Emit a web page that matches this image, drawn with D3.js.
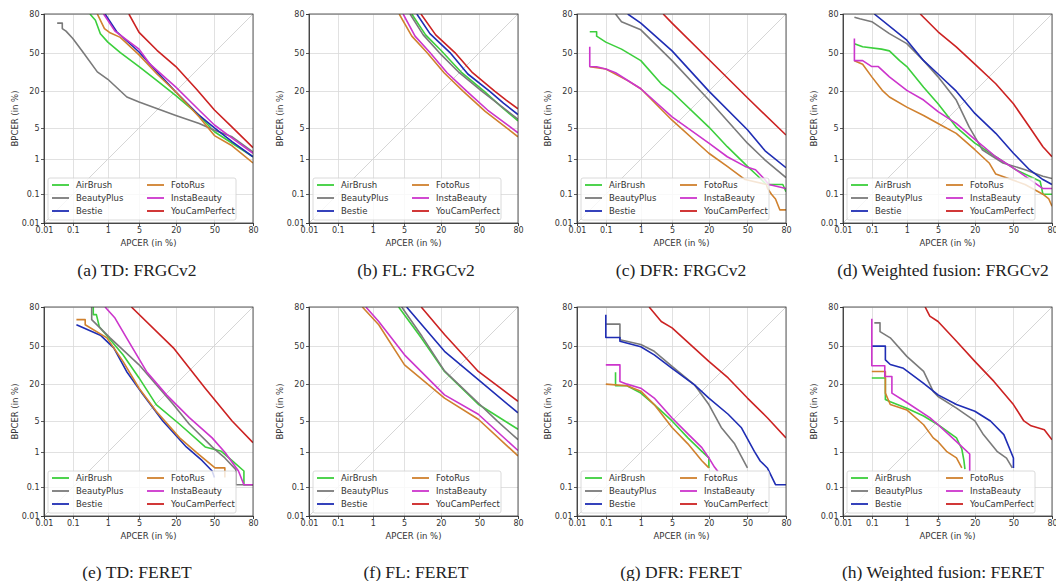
<html>
<script src="https://d3js.org/d3.v7.min.js"></script>
<style>
    body { margin: 0; background: #fff; }
    .grid line { stroke: #dadada; stroke-width: 0.8; shape-rendering: crispEdges; }
    .grid path { stroke-width: 0; }
    .axis path, .axis line { fill: none; stroke: #333; stroke-width: 0.8; shape-rendering: crispEdges; }
    .axis text { font-family: "DejaVu Sans"; font-size: 8px; fill: #333; }
</style>
<body>
<svg id="chart" width=1056 height=581></svg>
<script>
// series in legend order
var seriesNames = ["AirBrush", "BeautyPlus", "Bestie", "FotoRus", "InstaBeauty", "YouCamPerfect"];
var seriesColors = ["#3ccf3c", "#7a7a7a", "#1f2db4", "#d0812e", "#cc35cc", "#cc2222"];
var tickValues = [0.01, 0.1, 1, 5, 20, 50, 80];
var tickLabels = ["0.01", "0.1", "1", "5", "20", "50", "80"];
var captions = ["(a) TD: FRGCv2", "(b) FL: FRGCv2", "(c) DFR: FRGCv2", "(d) Weighted fusion: FRGCv2",
                "(e) TD: FERET", "(f) FL: FERET", "(g) DFR: FERET", "(h) Weighted fusion: FERET"];

// [APCER %, BPCER %] per series, same order as seriesNames
var tdFrgc = [
    [[0.33,80],[0.47,76],[0.64,66],[1,59],[2,50],[5,38],[10.5,27],[20,17.4],[37,8.5],[50,4.2],[80,1.15]],
    [[0.03,74],[0.045,74],[0.045,70],[0.06,68],[0.1,62],[0.21,50],[0.53,33.7],[1,28],[2.8,16.6],[5,14],[20,8.5],[37,6.1],[50,4.5],[65,3.3],[80,1.5]],
    [[0.85,80],[1.65,67.5],[5,50.5],[10.5,33.7],[20,19.5],[37,8.5],[50,5],[65,2.6],[80,1.15]],
    [[0.53,80],[0.82,70],[1.1,67],[2,63],[5,48],[10.5,32],[20,19.5],[37,8],[50,3.5],[65,2.1],[80,0.8]],
    [[0.78,80],[1.5,68],[5,53],[8,40],[20,22.5],[37,10.4],[50,5.7],[65,3.1],[80,1.4]],
    [[3.1,80],[5,67],[10.5,52],[20,38],[35,21],[50,10.5],[65,5.2],[80,1.9]]
];
var flFrgc = [
    [[7,80],[12,65],[20,52],[35,33],[54,20],[68,12],[80,6.8]],
    [[6.5,80],[11,65],[19,50],[33,33],[52,20],[80,7.3]],
    [[8.6,80],[14,66],[26,50],[40,32],[58.7,20],[70,13.5],[80,8.8]],
    [[4,80],[7,64],[12.6,50],[22,33],[36,20],[55,10],[80,3.3]],
    [[4.8,80],[8,64],[14,50],[24,33],[39,20],[57,10.5],[80,4]],
    [[10.1,80],[17,65],[29.6,50],[44,33],[63,20],[72,15],[80,11]]
];
var dfrFrgc = [
    [[0.029,67.5],[0.05,67.5],[0.05,64],[0.1,59],[0.3,53],[1,43],[3,24.8],[5,19.5],[20,5.2],[33,2],[50,0.65],[58.7,0.36],[66,0.2],[78,0.2],[80,0.12]],
    [[0.2,80],[0.3,75],[1,69],[5,43],[20,15],[50,2.4],[65,0.95],[80,0.32]],
    [[0.45,80],[1,74],[5,51.5],[20,20],[50,4.6],[65,1.6],[80,0.6]],
    [[0.029,37.8],[0.1,36],[0.45,27],[1,21.5],[5,7],[20,1.4],[33,0.65],[48,0.28],[66,0.2],[67,0.15],[70,0.1],[73,0.07],[76,0.03],[80,0.03]],
    [[0.029,55],[0.029,38],[0.05,37.8],[0.1,36],[0.2,33],[1,21.5],[5,8],[20,2.4],[33,1.15],[48,0.65],[57,0.53],[64,0.3],[68,0.2],[80,0.15]],
    [[3.3,80],[5,74],[20,44],[50,16.2],[80,3.6]]
];
var wfFrgc = [
    [[0.026,57.7],[0.05,55],[0.2,53],[0.34,51.5],[0.65,43],[1,38],[2.5,22.4],[5,13.2],[10.6,5.2],[20,2.4],[35,1.15],[52,0.53],[72,0.25],[74,0.1],[80,0.1]],
    [[0.026,78],[0.04,77],[0.1,75],[0.34,66],[1,57.7],[2.5,43],[5,29.8],[10.6,15],[16.6,5.3],[24.8,1.7],[41,0.8],[60,0.53],[74,0.35],[80,0.3]],
    [[0.12,80],[1,60.6],[2.5,43],[5,32],[10.6,20],[20,9.2],[35,3.9],[50,1.4],[63.7,0.53],[74,0.28],[80,0.2]],
    [[0.026,43],[0.05,40],[0.1,29.8],[0.21,20.5],[0.34,16.6],[1,11.7],[2.5,8.5],[5,6.1],[10.6,3.9],[20,1.7],[29.8,0.8],[35,0.4],[60,0.2],[74,0.1],[78,0.07],[80,0.04]],
    [[0.026,62],[0.026,43],[0.05,43],[0.1,38],[0.16,38],[0.34,29.8],[1,20.5],[2.5,15],[5,9.9],[10.6,6.1],[20,2.9],[35,1.15],[52,0.53],[74,0.15],[80,0.15]],
    [[2.1,80],[5,67.5],[10.6,55],[20,40],[35,24.8],[50,13.2],[63.7,5.2],[74,2],[80,1.15]]
];
var tdFeret = [
    [[0.41,80],[0.41,75],[0.5,75],[0.6,66],[2.3,42],[5,24],[10.2,9.9],[22.4,4.3],[42,1.35],[56,1.05],[65,0.6],[74,0.31],[74,0.12],[80,0.12]],
    [[0.37,80],[0.37,71.4],[1.14,56.7],[5,33.7],[18.5,9.9],[29.2,4.3],[48,1.35],[59,0.71],[68,0.34],[68,0.12],[80,0.12]],
    [[0.13,67.5],[0.64,59],[1.4,48],[2.76,28.6],[6,14.1],[13,5],[27,1.35],[39.5,0.6],[48,0.31],[50,0.2]],
    [[0.13,71.4],[0.24,71.4],[0.24,67.5],[0.95,56.7],[2.3,36.5],[5,17.6],[10.2,7.6],[22.4,2.2],[36.8,0.87],[50.5,0.38],[59,0.38],[59,0.2]],
    [[0.85,80],[1.5,72.6],[2.76,56.7],[6.9,28.6],[14.8,14.1],[29.2,5.8],[48,2.2],[59,1],[70,0.31],[74,0.12],[80,0.12]],
    [[3.5,80],[18.5,48],[42,17.6],[65,5],[80,1.7]]
];
var flFeret = [
    [[3.9,80],[10.2,56.7],[22.3,28.6],[49,10],[80,3.4]],
    [[4.5,80],[10.5,58],[22.3,29],[49,10.5],[65,5],[80,2]],
    [[5.6,80],[22.3,45],[49,22.8],[80,7.1]],
    [[0.53,80],[1.4,67.5],[5.1,33.7],[22.3,12.6],[49,5.4],[80,0.8]],
    [[0.66,80],[1.4,70],[5.1,42],[22.3,14.1],[49,6.7],[80,1.1]],
    [[10.2,80],[22.3,59.5],[49,28.6],[80,11.2]]
];
var dfrFeret = [
    [[0.2,28],[0.2,19],[0.43,19],[1,15],[2.1,9.9],[5,5],[9.7,2.2],[16,1.05],[20,0.71],[20,0.38]],
    [[0.1,68],[0.27,68],[0.27,55],[1,51],[2.1,45],[5,32.5],[12.4,19.6],[20,9.9],[28.4,3.7],[39,1.6],[50,0.38]],
    [[0.1,75],[0.1,57],[0.27,57],[0.27,53.8],[1,49],[2.1,42],[5,31],[12.4,19.6],[20,12.6],[33.7,6.7],[44.6,3.7],[56,1.05],[61,0.59],[67,0.37],[73,0.12],[80,0.12]],
    [[0.1,20],[0.43,19],[1,16],[2.1,9.9],[5,3.7],[9.7,1.6],[16,0.6],[20,0.38]],
    [[0.1,33.7],[0.27,33.7],[0.27,21.7],[0.43,20],[1,17.6],[2.1,12.6],[5,5.7],[9.7,2.7],[16,1.3],[20,0.71],[23.6,0.4],[26,0.3]],
    [[1.6,80],[3,70],[5,65],[20,36.5],[33.7,24],[50,12.6],[67,5.7],[80,2.2]]
];
var wfFeret = [
    [[0.1,24],[0.26,24],[0.26,12],[0.36,11],[1,8.6],[2.5,6.2],[5,4.2],[10.7,2.2],[13,1.2],[14,0.6],[14.5,0.35]],
    [[0.12,69],[0.18,69],[0.18,62],[0.36,56.7],[1,40.7],[2.5,28.6],[4,15.9],[5,13.3],[10.7,8.6],[20,5],[25.6,2.6],[36,1.05],[44,0.7],[49,0.38]],
    [[0.1,49.5],[0.26,49.5],[0.26,37.8],[0.36,34],[0.82,31],[2.5,20.5],[5,14.1],[10.7,9.9],[20,7.6],[30.8,5],[41.7,2.6],[50,0.71],[50,0.38]],
    [[0.1,28.6],[0.26,28.6],[0.26,15],[0.36,9.9],[1,8],[2.5,4.2],[4,2.2],[5,1.8],[7.2,1.05],[10.7,0.71],[13,0.38]],
    [[0.1,72],[0.1,33],[0.25,33],[0.25,25],[0.4,25],[0.4,15],[1,10.7],[3.4,5.8],[5,4.2],[10.7,1.8],[17,0.9],[17,0.3]],
    [[2.7,80],[3.4,74],[5,70],[10.7,53.8],[20,36.5],[33.5,21.7],[50,9.9],[59,5],[65,4],[75,3.3],[80,2]]
];

var panels = [tdFrgc, flFrgc, dfrFrgc, wfFrgc, tdFeret, flFeret, dfrFeret, wfFeret];

// inverse normal CDF (Acklam), used for the DET (probit) axes
function probit(p) {
    var a = [-3.969683028665376e+01, 2.209460984245205e+02, -2.759285104469687e+02, 1.383577518672690e+02, -3.066479806614716e+01, 2.506628277459239e+00];
    var b = [-5.447609879822406e+01, 1.615858368580409e+02, -1.556989798598866e+02, 6.680131188771972e+01, -1.328068155288572e+01];
    var c = [-7.784894002430293e-03, -3.223964580411365e-01, -2.400758277161838e+00, -2.549732539343734e+00, 4.374664141464968e+00, 2.938163982698783e+00];
    var d = [7.784695709041462e-03, 3.224671290700398e-01, 2.445134137142996e+00, 3.754408661907416e+00];
    var pl = 0.02425, q, r;
    if (p < pl) {
        q = Math.sqrt(-2 * Math.log(p));
        return (((((c[0]*q+c[1])*q+c[2])*q+c[3])*q+c[4])*q+c[5]) / ((((d[0]*q+d[1])*q+d[2])*q+d[3])*q+1);
    }
    if (p > 1 - pl) {
        q = Math.sqrt(-2 * Math.log(1 - p));
        return -(((((c[0]*q+c[1])*q+c[2])*q+c[3])*q+c[4])*q+c[5]) / ((((d[0]*q+d[1])*q+d[2])*q+d[3])*q+1);
    }
    q = p - 0.5; r = q * q;
    return (((((a[0]*r+a[1])*r+a[2])*r+a[3])*r+a[4])*r+a[5])*q / (((((b[0]*r+b[1])*r+b[2])*r+b[3])*r+b[4])*r+1);
}

var svg = d3.select("#chart");
var lefts = [44, 309, 577, 843];
var tops = [14, 307];
var captionX = [137, 416, 681, 943];
var captionY = [276, 578];
var width = 209, height = 209;

function drawPanel(idx, data) {
    var col = idx % 4, row = Math.floor(idx / 4);
    var g = svg.append("g")
        .attr("transform", "translate(" + lefts[col] + "," + tops[row] + ")");

    var x = d3.scaleLinear().domain([probit(0.0001), probit(0.8)]).range([0, width]);
    var y = d3.scaleLinear().domain([probit(0.0001), probit(0.8)]).range([height, 0]);
    var px = function(v) { return x(probit(v / 100)); };
    var py = function(v) { return y(probit(v / 100)); };
    var ticks = tickValues.map(function(t) { return probit(t / 100); });
    var fmt = function(d, i) { return tickLabels[i]; };

    g.append("g")
        .attr("class", "grid")
        .attr("transform", "translate(0," + height + ")")
        .call(d3.axisBottom(x).tickValues(ticks).tickSize(-height).tickFormat(""));
    g.append("g")
        .attr("class", "grid")
        .call(d3.axisLeft(y).tickValues(ticks).tickSize(-width).tickFormat(""));

    // diagonal
    g.append("line")
        .attr("x1", px(0.01)).attr("y1", py(0.01))
        .attr("x2", px(80)).attr("y2", py(80))
        .attr("stroke", "#d6d6d6").attr("stroke-width", 1);

    g.append("clipPath").attr("id", "clip" + idx)
        .append("rect").attr("width", width).attr("height", height);

    var line = d3.line()
        .x(function(d) { return px(d[0]); })
        .y(function(d) { return py(d[1]); });

    var curves = g.append("g").attr("clip-path", "url(#clip" + idx + ")");
    data.forEach(function(pts, i) {
        curves.append("path")
            .datum(pts)
            .attr("fill", "none")
            .attr("stroke", seriesColors[i])
            .attr("stroke-width", 1.6)
            .attr("stroke-linejoin", "round")
            .attr("d", line);
    });

    g.append("g")
        .attr("class", "axis")
        .attr("transform", "translate(0," + height + ")")
        .call(d3.axisBottom(x).tickValues(ticks).tickSize(3).tickPadding(1.5).tickFormat(fmt));
    g.append("g")
        .attr("class", "axis")
        .call(d3.axisLeft(y).tickValues(ticks).tickSize(3).tickPadding(1.5).tickFormat(fmt));

    // frame
    g.append("rect")
        .attr("width", width).attr("height", height)
        .attr("fill", "none").attr("stroke", "#333").attr("stroke-width", 0.8);

    // legend
    var lg = g.append("g").attr("transform", "translate(4," + (height - 45) + ")");
    lg.append("rect")
        .attr("width", 188).attr("height", 42).attr("rx", 2)
        .attr("fill", "#fff").attr("fill-opacity", 0.8)
        .attr("stroke", "#d0d0d0").attr("stroke-width", 0.8);
    seriesNames.forEach(function(name, i) {
        var cx = i < 3 ? 4 : 99, cy = 7 + (i % 3) * 13;
        lg.append("line")
            .attr("x1", cx).attr("x2", cx + 17)
            .attr("y1", cy).attr("y2", cy)
            .attr("stroke", seriesColors[i]).attr("stroke-width", 1.8);
        lg.append("text")
            .attr("x", cx + 24).attr("y", cy + 3)
            .style("font-family", "DejaVu Sans").style("font-size", "8.5px").style("fill", "#333")
            .text(name);
    });

    // axis labels
    g.append("text")
        .attr("x", width / 2).attr("y", height + 23)
        .style("text-anchor", "middle")
        .style("font-family", "DejaVu Sans").style("font-size", "8.5px").style("fill", "#333")
        .text("APCER (in %)");
    g.append("text")
        .attr("transform", "rotate(-90)")
        .attr("x", -height / 2).attr("y", -26)
        .style("text-anchor", "middle")
        .style("font-family", "DejaVu Sans").style("font-size", "8.5px").style("fill", "#333")
        .text("BPCER (in %)");

    // caption
    svg.append("text")
        .attr("x", captionX[col]).attr("y", captionY[row])
        .style("text-anchor", "middle")
        .style("font-family", "Liberation Serif").style("font-size", "17.5px").style("fill", "#222")
        .text(captions[idx]);
}

panels.forEach(function(p, i) { drawPanel(i, p); });
</script>
</body>
</html>
